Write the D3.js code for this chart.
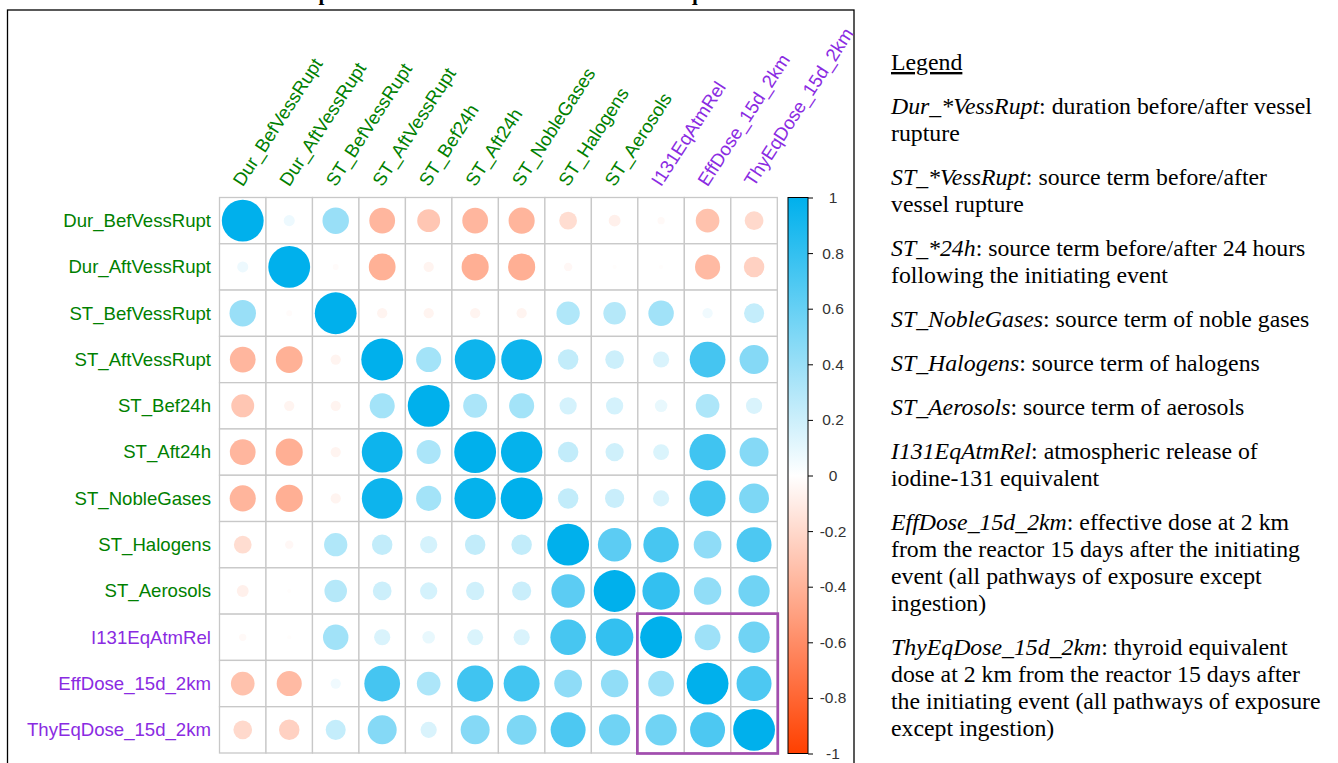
<!DOCTYPE html>
<html>
<head>
<meta charset="utf-8">
<script src="https://cdn.jsdelivr.net/npm/d3@7/dist/d3.min.js"></script>
<style>
  html, body { margin: 0; padding: 0; background: #fff; }
  svg { display: block; }
</style>
</head>
<body>
<svg id="chart" width="1338" height="763"></svg>
<script>
// Variables of the correlation matrix (rows and columns share this order)
const variables = [
  "Dur_BefVessRupt", "Dur_AftVessRupt", "ST_BefVessRupt", "ST_AftVessRupt",
  "ST_Bef24h", "ST_Aft24h", "ST_NobleGases", "ST_Halogens", "ST_Aerosols",
  "I131EqAtmRel", "EffDose_15d_2km", "ThyEqDose_15d_2km"
];

// Output quantities (labelled in purple and framed together)
const outputVars = ["I131EqAtmRel", "EffDose_15d_2km", "ThyEqDose_15d_2km"];

// Pairwise correlation coefficients, one row per variable
const corrRows = [
  [ 1.00,  0.07,  0.40, -0.38, -0.30, -0.38, -0.39, -0.18, -0.08, -0.03, -0.32, -0.20],
  [ 0.07,  1.00, -0.02, -0.41, -0.06, -0.42, -0.42, -0.04, -0.01, -0.01, -0.36, -0.24],
  [ 0.40, -0.02,  1.00, -0.06, -0.06, -0.06, -0.06,  0.31,  0.29,  0.37,  0.06,  0.23],
  [-0.38, -0.41, -0.06,  1.00,  0.36,  0.95,  0.95,  0.24,  0.20,  0.15,  0.73,  0.48],
  [-0.30, -0.06, -0.06,  0.36,  1.00,  0.33,  0.36,  0.17,  0.17,  0.09,  0.32,  0.15],
  [-0.38, -0.42, -0.06,  0.95,  0.33,  1.00,  0.98,  0.24,  0.19,  0.145, 0.75,  0.48],
  [-0.39, -0.42, -0.06,  0.95,  0.36,  0.98,  1.00,  0.24,  0.21,  0.15,  0.74,  0.51],
  [-0.18, -0.04,  0.31,  0.24,  0.17,  0.24,  0.24,  1.00,  0.64,  0.72,  0.44,  0.70],
  [-0.08, -0.01,  0.29,  0.20,  0.17,  0.19,  0.21,  0.64,  1.00,  0.80,  0.43,  0.56],
  [-0.03, -0.01,  0.37,  0.15,  0.09,  0.145, 0.15,  0.72,  0.80,  1.00,  0.38,  0.56],
  [-0.32, -0.36,  0.06,  0.73,  0.32,  0.75,  0.74,  0.44,  0.43,  0.38,  1.00,  0.70],
  [-0.20, -0.24,  0.23,  0.48,  0.15,  0.48,  0.51,  0.70,  0.56,  0.56,  0.70,  1.00]
];

// Colour bar tick values
const colorbarTicks = [-1, -0.8, -0.6, -0.4, -0.2, 0, 0.2, 0.4, 0.6, 0.8, 1];

// Legend: italic term followed by its description lines
const legendTitle = "Legend";
const legendTerms = [
  "Dur_*VessRupt", "ST_*VessRupt", "ST_*24h", "ST_NobleGases", "ST_Halogens",
  "ST_Aerosols", "I131EqAtmRel", "EffDose_15d_2km", "ThyEqDose_15d_2km"
];
const legendTexts = [
  [": duration before/after vessel", "rupture"],
  [": source term before/after", "vessel rupture"],
  [": source term before/after 24 hours", "following the initiating event"],
  [": source term of noble gases"],
  [": source term of halogens"],
  [": source term of aerosols"],
  [": atmospheric release of", "iodine-131 equivalent"],
  [": effective dose at 2 km", "from the reactor 15 days after the initiating",
   "event (all pathways of exposure except", "ingestion)"],
  [": thyroid equivalent", "dose at 2 km from the reactor 15 days after",
   "the initiating event (all pathways of exposure", "except ingestion)"]
];

const titleText = "Heat map of the correlations between the studied quantities of interest";

// ---------------------------------------------------------------------------
const svg = d3.select("#chart");
const SANS = "'Liberation Sans', Arial, sans-serif";
const SERIF = "'Liberation Serif', 'Times New Roman', serif";
const GREEN = "#008000", PURPLE = "#8A2BE2";

svg.append("rect").attr("width", 1338).attr("height", 763).attr("fill", "#fff");

// Title (runs off the top edge of the page)
svg.append("text")
  .attr("x", 242).attr("y", 0)
  .attr("font-family", SERIF).attr("font-weight", "bold").attr("font-size", 21)
  .attr("fill", "#000")
  .text(titleText);

// Frame around the correlation plot
svg.append("rect")
  .attr("x", 7.5).attr("y", 10).attr("width", 846.5).attr("height", 790)
  .attr("fill", "none").attr("stroke", "#000").attr("stroke-width", 1.3);

// Scales
const x = d3.scaleBand().domain(variables).range([219.5, 777.3]);
const y = d3.scaleBand().domain(variables).range([197.5, 753]);
const color = d3.scaleLinear()
  .domain([-1, 0, 1])
  .range(["#FF4000", "#FFFFFF", "#00B0EC"])
  .interpolate(d3.interpolateRgb);
const radius = d3.scaleSqrt().domain([0, 1]).range([0, 0.45 * x.bandwidth()]);

const cells = [];
corrRows.forEach((row, i) => row.forEach((v, j) => {
  cells.push({ row: variables[i], col: variables[j], value: v });
}));

// Grid cells
svg.append("g").selectAll("rect").data(cells).join("rect")
  .attr("x", d => x(d.col)).attr("y", d => y(d.row))
  .attr("width", x.bandwidth()).attr("height", y.bandwidth())
  .attr("fill", "#fff").attr("stroke", "#c8c8c8").attr("stroke-width", 1.3);

// Circles: area proportional to |r|, colour from the diverging scale
svg.append("g").selectAll("circle").data(cells).join("circle")
  .attr("cx", d => x(d.col) + x.bandwidth() / 2)
  .attr("cy", d => y(d.row) + y.bandwidth() / 2)
  .attr("r", d => radius(Math.abs(d.value)))
  .attr("fill", d => color(d.value));

// Row labels
svg.append("g").selectAll("text").data(variables).join("text")
  .attr("x", 211)
  .attr("y", d => y(d) + y.bandwidth() / 2)
  .attr("dy", "0.34em")
  .attr("text-anchor", "end")
  .attr("font-family", SANS).attr("font-size", 18.6)
  .attr("fill", d => outputVars.includes(d) ? PURPLE : GREEN)
  .text(d => d);

// Column labels, slanted
svg.append("g").selectAll("text").data(variables).join("text")
  .attr("transform", d => `translate(${x(d) + x.bandwidth() / 2},${y.range()[0] - 10}) rotate(-57)`)
  .attr("text-anchor", "start")
  .attr("font-family", SANS).attr("font-size", 18.6)
  .attr("fill", d => outputVars.includes(d) ? PURPLE : GREEN)
  .text(d => d);

// Frame around the output block
const o0 = outputVars[0], o1 = outputVars[outputVars.length - 1];
svg.append("rect")
  .attr("x", x(o0) - 0.5).attr("y", y(o0) - 0.5)
  .attr("width", x(o1) + x.bandwidth() - x(o0) + 1)
  .attr("height", y(o1) + y.bandwidth() - y(o0) + 1)
  .attr("fill", "none").attr("stroke", "#A24DAE").attr("stroke-width", 2.7);

// Colour bar
const cbX = 788, cbW = 20;
const cbY = d3.scaleLinear().domain([-1, 1]).range([753.5, 197.5]);
const grad = svg.append("defs").append("linearGradient")
  .attr("id", "cbGrad").attr("x1", 0).attr("x2", 0).attr("y1", 1).attr("y2", 0);
d3.range(-1, 1.0001, 0.1).forEach(v => {
  grad.append("stop").attr("offset", (v + 1) / 2).attr("stop-color", color(v));
});
svg.append("rect")
  .attr("x", cbX).attr("y", cbY(1)).attr("width", cbW).attr("height", cbY(-1) - cbY(1))
  .attr("fill", "url(#cbGrad)").attr("stroke", "#000").attr("stroke-width", 1);

const cbAxis = svg.append("g")
  .attr("transform", `translate(${cbX + cbW},0)`)
  .call(d3.axisRight(cbY).tickValues(colorbarTicks).tickSize(5)
    .tickFormat(d => String(+d.toFixed(1))));
cbAxis.select(".domain").remove();
cbAxis.selectAll(".tick line").attr("stroke", "#000");
cbAxis.selectAll(".tick text")
  .attr("x", 25).attr("text-anchor", "middle")
  .attr("font-family", SANS).attr("font-size", 15.5).attr("fill", "#333");

// Legend text block
const lg = svg.append("g").attr("font-family", SERIF).attr("font-size", 23.8).attr("fill", "#000");
lg.append("text").attr("x", 891).attr("y", 70).attr("text-decoration", "underline").text(legendTitle);
const lineH = 27, paraGap = 17;
let yy = 114;
legendTerms.forEach((term, i) => {
  legendTexts[i].forEach((line, k) => {
    const t = lg.append("text").attr("x", 891).attr("y", yy + k * lineH);
    if (k === 0) {
      t.append("tspan").attr("font-style", "italic").text(term);
    }
    t.append("tspan").text(line);
  });
  yy += legendTexts[i].length * lineH + paraGap;
});
</script>
</body>
</html>
